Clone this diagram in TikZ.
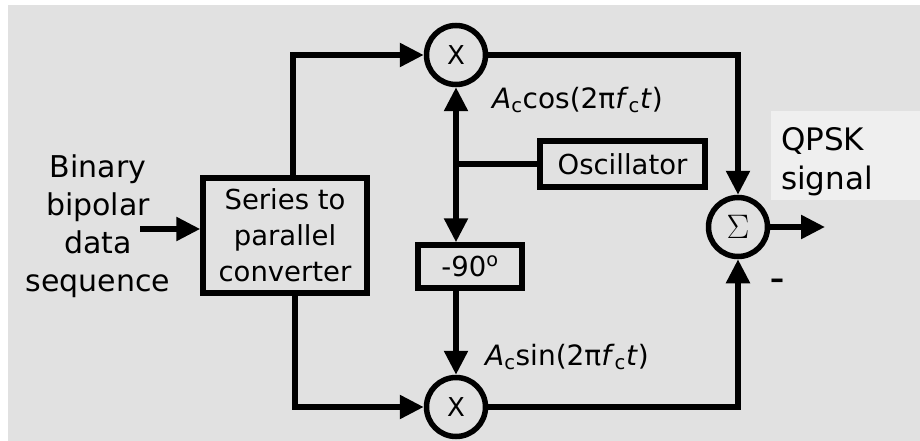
\documentclass[tikz,border=0pt]{standalone}
\usepackage{fix-cm}
\usepackage{fontspec}
\setmainfont{DejaVu Sans}
\usetikzlibrary{arrows.meta,positioning}
\definecolor{bggray}{HTML}{E1E1E1}
\definecolor{lightpanel}{HTML}{EFEFEF}
\begin{document}
\begin{tikzpicture}[x=1pt,y=-1pt,
  blockbox/.style={draw,line width=5.5pt,inner sep=0pt,align=center,font=\fontsize{27.5}{36}\selectfont},
  mixer/.style={draw,circle,line width=5.5pt,minimum size=59pt,inner sep=0pt},
  flow/.style={line width=5.5pt,-{Triangle[length=24pt,width=23pt]}},
  wire/.style={line width=5.5pt},
  lbl/.style={inner sep=0pt,align=center}]
% QPSK modulator block diagram
\useasboundingbox (0,0) rectangle (920,441);
\fill[white] (0,0) rectangle (920,441);
\fill[bggray] (8,5) rectangle (920,441);
\fill[lightpanel] (771,111) rectangle (920,200);
\node[blockbox,minimum width=164pt,minimum height=115pt] (conv) at (285,235.5) {Series to\\parallel\\converter};
\node[lbl,font=\fontsize{30}{38}\selectfont] (src) at (98,226) {Binary\\bipolar\\data\\sequence};
\coordinate (in) at (140,229);
\draw[flow] (in) -- (in -| conv.west);
\node[mixer,font=\fontsize{26}{26}\selectfont] (mt) at (456,55) {X};
\node[mixer,font=\fontsize{26}{26}\selectfont] (mb) at (456,407) {X};
\node[mixer,font=\fontsize{34}{34}\selectfont] (sum) at (738,227) {$\Sigma$};
\node[blockbox,minimum width=165pt,minimum height=46pt] (osc) at (622.5,164) {Oscillator};
\node[blockbox,minimum width=104pt,minimum height=43pt] (phase) at (470,266.5) {-90\textsuperscript{o}};
\coordinate (j) at (456,164);
\draw[flow] ([xshift=8pt]conv.north) |- (mt.west);
\draw[flow] ([xshift=10pt]conv.south) |- (mb.west);
\draw[wire] (osc.west) -- (j);
\draw[flow] (j) -- (mt.south);
\draw[flow] (j) -- (j |- phase.north);
\draw[flow] (j |- phase.south) -- (mb.north);
\draw[flow] (mt.east) -| (sum.north);
\draw[flow] (mb.east) -| (sum.south);
\coordinate (out) at (825,227);
\draw[flow] (sum.east) -- (out);
\node[lbl,anchor=west,font=\fontsize{28}{28}\selectfont] (cosl) at (492,100) {\textit{A}\textsubscript{c}cos(2π\textit{f}\textsubscript{c}\textit{t})};
\node[lbl,anchor=west,font=\fontsize{28}{28}\selectfont] (sinl) at (485,357) {\textit{A}\textsubscript{c}sin(2π\textit{f}\textsubscript{c}\textit{t})};
\node[lbl,font=\bfseries\fontsize{28}{28}\selectfont] (minus) at (777,284) {–};
\node[lbl,anchor=west,align=left,font=\fontsize{31}{39}\selectfont] (qpsk) at (781,162) {QPSK\\signal};
\end{tikzpicture}
\end{document}
